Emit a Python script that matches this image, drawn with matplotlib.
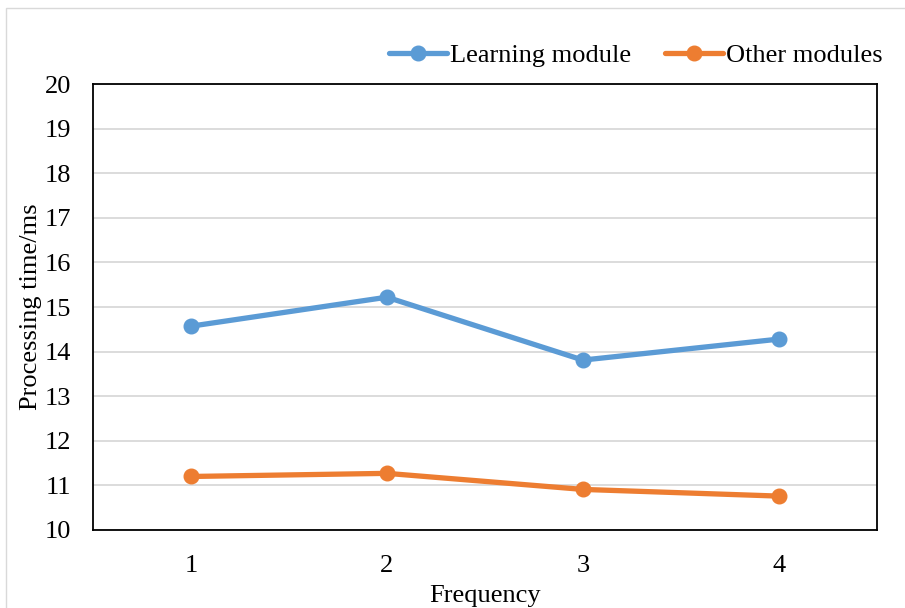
import matplotlib.pyplot as plt
from matplotlib.patches import Rectangle

# values
frequency = [1, 2, 3, 4]
learning_module = [14.57, 15.22, 13.81, 14.28]
other_modules = [11.20, 11.27, 10.91, 10.76]

plt.rcParams['font.family'] = ['Liberation Serif', 'DejaVu Serif']

fig = plt.figure(figsize=(9.05, 6.08), dpi=100)
ax = fig.add_axes([0.1028, 0.1283, 0.866, 0.7335])

ax.plot(frequency, learning_module, color='#5B9BD5', lw=3.8, marker='o', ms=10.5,
        label='Learning module', solid_capstyle='round', zorder=3)
ax.plot(frequency, other_modules, color='#ED7D31', lw=3.8, marker='o', ms=10.5,
        label='Other modules', solid_capstyle='round', zorder=3)

ax.set_xlim(0.5, 4.5)
ax.set_ylim(10, 20)
ax.set_xticks(frequency)
ax.set_yticks(range(10, 21))
ax.tick_params(labelsize=19, length=0)
ax.tick_params(axis='y', pad=16)
ax.tick_params(axis='x', pad=18)
ax.grid(axis='y', color='#D9D9D9', lw=1.3)
ax.set_axisbelow(True)
for s in ax.spines.values():
    s.set_color('black')
    s.set_linewidth(1.3)

ax.set_xlabel('Frequency', fontsize=19, labelpad=6)
ax.set_ylabel('Processing time/ms', fontsize=19, labelpad=2)

ax.legend(loc='center right', bbox_to_anchor=(1.021, 1.065), ncol=2, frameon=False,
          fontsize=19, handlelength=2.2, handletextpad=0.1, columnspacing=1.3,
          borderaxespad=0)

# light outer border like the original chart frame
fig.patches.append(Rectangle((0.007, -0.01), 0.995, 0.997, transform=fig.transFigure,
                             fill=False, edgecolor='#D9D9D9', lw=1))

fig.savefig('out.png', dpi=100)
